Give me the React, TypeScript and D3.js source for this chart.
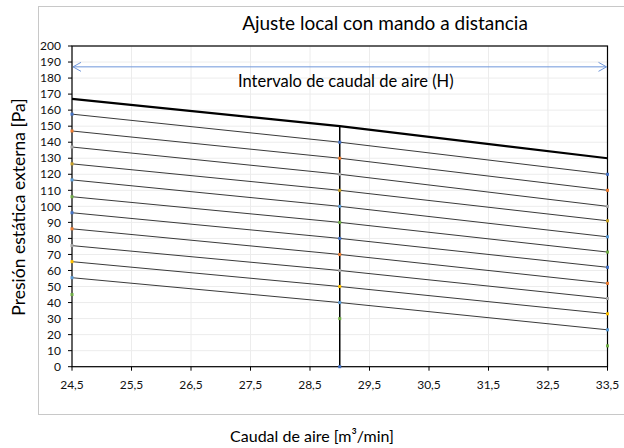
import React from 'react';
import * as d3 from 'd3';

const xPoints = [24.5, 29, 33.5];
const xTicks = [24.5, 25.5, 26.5, 27.5, 28.5, 29.5, 30.5, 31.5, 32.5, 33.5];
const yTicks = [0, 10, 20, 30, 40, 50, 60, 70, 80, 90, 100, 110, 120, 130, 140, 150, 160, 170, 180, 190, 200];
const boldLine = [167, 150, 130];
const leftValues = [157.5, 147, 137, 126.5, 116.5, 106, 96, 86, 75.5, 65.5, 55.5];
const midValues = [140, 130, 120, 110, 100, 90, 80, 70, 60, 50, 40];
const rightValues = [120, 110, 100, 91, 81, 71.5, 62, 52, 42.5, 33, 23];
const markerColors = ['#4472C4', '#ED7D31', '#A5A5A5', '#C9A227', '#5B9BD5', '#70AD47', '#4472C4', '#ED7D31', '#A5A5A5', '#FFC000', '#5B9BD5'];
const extraX = [24.5, 29, 33.5, 29];
const extraY = [45, 30, 13, 0];
const extraColors = ['#70AD47', '#70AD47', '#70AD47', '#4472C4'];
const verticalX = 29;
const verticalY = [0, 150];
const arrowY = 187;
const title = 'Ajuste local con mando a distancia';
const arrowLabel = 'Intervalo de caudal de aire (H)';
const yTitle = 'Presión estática externa [Pa]';
const xTitle = 'Caudal de aire [m³/min]';

const W = 624;
const H = 448;
const plot = { left: 72, right: 607.5, top: 46, bottom: 366.7 };
const font = 'Lato, "Open Sans", sans-serif';

export default function App() {
  const x = d3.scaleLinear().domain([24.5, 33.5]).range([plot.left, plot.right]);
  const y = d3.scaleLinear().domain([0, 200]).range([plot.bottom, plot.top]);
  const line = d3.line<[number, number]>().x(d => x(d[0])).y(d => y(d[1]));
  const fmt = (v: number) => String(v).replace('.', ',');

  const thin = leftValues.map((l, i) => [
    [xPoints[0], l],
    [xPoints[1], midValues[i]],
    [xPoints[2], rightValues[i]],
  ] as [number, number][]);

  const ay = y(arrowY);
  const ax0 = x(24.5) + 1;
  const ax1 = x(33.5) - 1;

  return (
    <svg width={W} height={H} style={{ position: 'absolute', left: 0, top: 0, background: '#fff' }} fontFamily={font}>
      <rect x={0} y={0} width={W} height={H} fill="#fff" />
      <rect x={38.5} y={6.5} width={620} height={408} fill="#fff" stroke="#c8c8c8" strokeWidth={1} />
      <text x={385} y={30} textAnchor="middle" fontSize={19} fill="#000">{title}</text>

      {/* gridlines */}
      {yTicks.map(t => (
        <line key={'gy' + t} x1={plot.left} x2={plot.right} y1={y(t)} y2={y(t)} stroke="#ececec" strokeWidth={1} />
      ))}
      {xTicks.map(t => (
        <line key={'gx' + t} x1={x(t)} x2={x(t)} y1={plot.top} y2={plot.bottom} stroke="#ececec" strokeWidth={1} />
      ))}

      {/* plot frame */}
      <rect x={plot.left} y={plot.top} width={plot.right - plot.left} height={plot.bottom - plot.top} fill="none" stroke="#000" strokeWidth={1.2} />

      {/* y axis ticks */}
      {yTicks.map(t => (
        <g key={'ty' + t}>
          <line x1={plot.left - 4} x2={plot.left} y1={y(t)} y2={y(t)} stroke="#000" strokeWidth={1} />
          <text x={61} y={y(t)} dy="0.35em" textAnchor="end" fontSize={12} fill="#111">{t}</text>
        </g>
      ))}
      {xTicks.map(t => (
        <g key={'tx' + t}>
          <line x1={x(t)} x2={x(t)} y1={plot.bottom} y2={plot.bottom + 4} stroke="#000" strokeWidth={1} />
          <text x={x(t)} y={389} textAnchor="middle" fontSize={12} fill="#111">{fmt(t)}</text>
        </g>
      ))}

      {/* arrow */}
      <line x1={ax0} x2={ax1} y1={ay} y2={ay} stroke="#6F96DA" strokeWidth={1} />
      <path d={`M${ax0 + 8},${ay - 4.5} L${ax0},${ay} L${ax0 + 8},${ay + 4.5}`} fill="none" stroke="#6F96DA" strokeWidth={1} />
      <path d={`M${ax1 - 8},${ay - 4.5} L${ax1},${ay} L${ax1 - 8},${ay + 4.5}`} fill="none" stroke="#6F96DA" strokeWidth={1} />
      <text x={238} y={86.5} fontSize={16.5} fill="#000">{arrowLabel}</text>

      {/* thin lines */}
      {thin.map((pts, i) => (
        <path key={'l' + i} d={line(pts) || ''} fill="none" stroke="#3a3a3a" strokeWidth={1} />
      ))}
      {/* bold line */}
      <path d={line(xPoints.map((xx, i) => [xx, boldLine[i]] as [number, number])) || ''} fill="none" stroke="#000" strokeWidth={2.2} />
      {/* vertical */}
      <line x1={x(verticalX)} x2={x(verticalX)} y1={y(verticalY[0])} y2={y(verticalY[1])} stroke="#000" strokeWidth={1.5} />

      {/* markers */}
      {thin.map((pts, i) => pts.map((p, j) => (
        <rect key={'m' + i + '-' + j} x={x(p[0]) - 1.5} y={y(p[1]) - 1.5} width={3} height={3} fill={markerColors[i]} />
      )))}
      {extraX.map((xx, i) => (
        <rect key={'e' + i} x={x(xx) - 1.5} y={y(extraY[i]) - 1.5} width={3} height={3} fill={extraColors[i]} />
      ))}

      {/* axis titles */}
      <text transform={`translate(25,207) rotate(-90)`} textAnchor="middle" fontSize={17.5} fill="#000">{yTitle}</text>
      <text x={312} y={442} textAnchor="middle" fontSize={16} fill="#000">{xTitle}</text>
    </svg>
  );
}
